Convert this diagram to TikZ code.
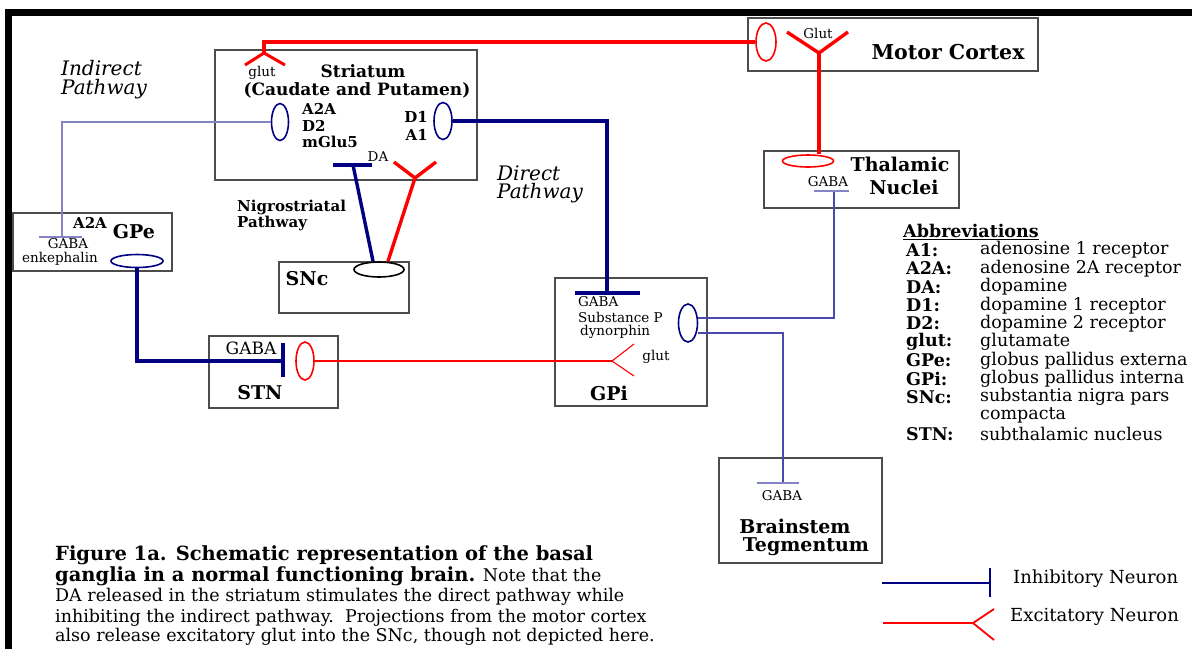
\documentclass[tikz,border=0pt]{standalone}
\usepackage{fontspec}
\setmainfont{DejaVu Serif}
\usetikzlibrary{shapes.geometric}
\definecolor{navy}{HTML}{000080}
\definecolor{paleblue}{HTML}{8484C4}
\definecolor{midblue}{HTML}{4A4AAE}
\newcommand{\fsz}[1]{\fontsize{#1}{#1}\selectfont}

\begin{document}
\begin{tikzpicture}[x=1pt, y=-1pt,
    box/.style={draw=black!70, line width=1.2pt, inner sep=0pt},
    rcpt/.style={ellipse, draw, line width=1.6pt, inner sep=0pt},
    inh/.style={draw=navy, line width=3.4pt},
    inhlite/.style={draw=paleblue, line width=1.5pt},
    inhmid/.style={draw=midblue, line width=1.5pt},
    exc/.style={draw=red, line width=3.4pt},
    exclite/.style={draw=red, line width=1.1pt},
    ttl/.style={inner sep=0pt, font=\bfseries\fsz{19}},
    sttl/.style={inner sep=0pt, font=\bfseries\fsz{17}},
    rcl/.style={inner sep=0pt, font=\bfseries\fsz{15}},
    sml/.style={inner sep=0pt, font=\fsz{13.5}},
    pathlbl/.style={inner sep=0pt, font=\itshape\fsz{20}},
    txt/.style={inner sep=0pt, font=\fsz{17.5}},
    btxt/.style={inner sep=0pt, font=\bfseries\fsz{17.5}},
    captxt/.style={inner sep=0pt, font=\fsz{17.5}},
    capb/.style={inner sep=0pt, font=\bfseries\fsz{19.5}}]

    \path[fill=white] (0,0) rectangle (1192,649);
    \useasboundingbox (0,0) rectangle (1192,649);
    % frame
    \fill[black] (5,9) rectangle (1192,16);
    \fill[black] (5,9) rectangle (12,649);

    % boxes
    \node[box, minimum width=262pt, minimum height=130pt] (striatum) at (346,115) {};
    \node[box, minimum width=290pt, minimum height=53pt] (motor) at (893,44.5) {};
    \node[box, minimum width=195pt, minimum height=57pt] (thal) at (861.5,179.5) {};
    \node[box, minimum width=159pt, minimum height=58pt] (gpe) at (92.5,242) {};
    \node[box, minimum width=130pt, minimum height=51pt] (snc) at (344,287.5) {};
    \node[box, minimum width=129pt, minimum height=72pt] (stn) at (273.5,372) {};
    \node[box, minimum width=152pt, minimum height=128pt] (gpi) at (631,342) {};
    \node[box, minimum width=163pt, minimum height=105pt] (brainstem) at (800.5,510.5) {};

    % receptors
    \node[rcpt, draw=navy, minimum width=17pt, minimum height=37pt] (a2a) at (280,122) {};
    \node[rcpt, draw=navy, minimum width=18pt, minimum height=37pt] (d1) at (443,121) {};
    \node[rcpt, draw=red, minimum width=20pt, minimum height=38pt] (mcrec) at (766,42) {};
    \node[rcpt, draw=red, minimum width=51pt, minimum height=12pt] (thrrec) at (808,161) {};
    \node[rcpt, draw=navy, minimum width=52pt, minimum height=13pt] (gperec) at (137,261) {};
    \node[rcpt, draw=black, minimum width=50pt, minimum height=15pt] (sncrec) at (379,269.5) {};
    \node[rcpt, draw=red, minimum width=18pt, minimum height=38pt] (stnrec) at (305,361) {};
    \node[rcpt, draw=navy, minimum width=19pt, minimum height=38pt] (gpirec) at (688,323) {};

    % motor cortex -> striatum
    \coordinate (strfork) at (264,53);
    \draw[exc, line width=3.2pt] (mcrec.west) -| (strfork);
    \draw[exc, line width=3pt] ([shift={(-19,12)}]strfork) -- (strfork) -- ([shift={(21,12)}]strfork);

    % motor cortex -> thalamus
    \coordinate (mcfork) at (819,53);
    \draw[exc] ([shift={(-32,-21)}]mcfork) -- (mcfork) -- ([shift={(29,-21)}]mcfork);
    \draw[exc] (mcfork) -- (mcfork |- thrrec.north);

    % nigrostriatal
    \coordinate (dabar) at (353,165);
    \draw[inh] ([xshift=-6pt]sncrec.north) -- (dabar);
    \draw[inh] ([xshift=-20pt]dabar) -- ([xshift=19pt]dabar);
    \coordinate (dafork) at (415,178);
    \draw[exc] ([xshift=9pt]sncrec.north) -- (dafork);
    \draw[exc] ([shift={(-21,-16)}]dafork) -- (dafork) -- ([shift={(21,-16)}]dafork);

    % direct pathway
    \coordinate (gpibar) at (607,293);
    \draw[inh] (d1.east) -| (gpibar);
    \draw[inh] ([xshift=-32pt]gpibar) -- ([xshift=33pt]gpibar);

    % indirect pathway
    \coordinate (gpebar) at (62,237);
    \draw[inhlite] (a2a.west) -| (gpebar);
    \draw[inhlite] ([xshift=-23pt]gpebar) -- ([xshift=20pt]gpebar);
    \coordinate (stnbar) at (283,361);
    \draw[inh] (gperec.south) |- (stnbar);
    \draw[inh] ([yshift=18pt]stnbar) -- ([yshift=-16pt]stnbar);
    \coordinate (gpifork) at (612,361);
    \draw[exclite] (stnrec.east) -- (gpifork);
    \draw[exclite] ([shift={(22,-17)}]gpifork) -- (gpifork) -- ([shift={(22,15)}]gpifork);

    % output of GPi
    \coordinate (thbar) at (834,191);
    \draw[inhmid] ([yshift=5pt]gpirec.east) -| (thbar);
    \draw[inhlite] ([xshift=-20pt]thbar) -- ([xshift=15pt]thbar);
    \coordinate (bsbar) at (783,483);
    \draw[inhmid] ([yshift=-10pt]gpirec.east) -| (bsbar);
    \draw[inhlite] ([xshift=-26pt]bsbar) -- ([xshift=16pt]bsbar);

    % labels in the boxes
    \node[sml] (glut1) at (262,73) {glut};
    \node[sttl] (strname) at (363,71) {Striatum};
    \node[sttl] (strsub) at (357,90) {(Caudate and Putamen)};
    \node[rcl, anchor=west] (a2albl) at (302,109) {A2A};
    \node[rcl, anchor=west] (d2lbl) at (302,126) {D2};
    \node[rcl, anchor=west] (mglulbl) at (302,142) {mGlu5};
    \node[rcl, anchor=east] (d1lbl) at (428,117) {D1};
    \node[rcl, anchor=east] (a1lbl) at (428,135) {A1};
    \node[sml] (dalbl) at (378,157) {DA};
    \node[sml] (glut2) at (818,33) {Glut};
    \node[ttl, font=\bfseries\fsz{20.5}] (mcname) at (948,52) {Motor Cortex};
    \node[ttl] (thname1) at (900,164) {Thalamic};
    \node[ttl] (thname2) at (904,187) {Nuclei};
    \node[sml] (thgaba) at (828,182) {GABA};
    \node[rcl] (gpea2a) at (90,223) {A2A};
    \node[ttl] (gpename) at (134,232) {GPe};
    \node[sml] (gpegaba) at (68,244) {GABA};
    \node[sml] (gpeenk) at (60,259) {enkephalin};
    \node[ttl] (sncname) at (307,279) {SNc};
    \node[rcl, anchor=west] (nigro1) at (237,207) {Nigrostriatal};
    \node[rcl, anchor=west] (nigro2) at (237,223) {Pathway};
    \node[txt, font=\fsz{17}] (stngaba) at (251,348) {GABA};
    \node[ttl] (stnname) at (260,393) {STN};
    \node[sml, anchor=west] (gpigaba) at (578,302) {GABA};
    \node[sml, anchor=west] (gpisub) at (578,317) {Substance P};
    \node[sml, anchor=west] (gpidyn) at (580,332) {dynorphin};
    \node[sml] (glut3) at (656,357) {glut};
    \node[ttl] (gpiname) at (609,393) {GPi};
    \node[sml] (bsgaba) at (782,496) {GABA};
    \node[ttl] (bsname1) at (795,526) {Brainstem};
    \node[ttl] (bsname2) at (806,547) {Tegmentum};

    % pathway names
    \node[pathlbl, anchor=west] (ind1) at (61,68) {Indirect};
    \node[pathlbl, anchor=west] (ind2) at (61,89) {Pathway};
    \node[pathlbl, anchor=west] (dir1) at (497,173) {Direct};
    \node[pathlbl, anchor=west] (dir2) at (497,193) {Pathway};

    % abbreviations
    \node[btxt, anchor=west] (abbr) at (903,232) {\underline{Abbreviations}};
    \foreach \r/\ab/\full in {0/A1:/adenosine 1 receptor, 1/A2A:/adenosine 2A receptor,
        2/DA:/dopamine, 3/D1:/dopamine 1 receptor, 4/D2:/dopamine 2 receptor,
        5/glut:/glutamate, 6/GPe:/globus pallidus externa, 7/GPi:/globus pallidus interna,
        8/SNc:/substantia nigra pars, 10/STN:/subthalamic nucleus} {
        \node[btxt, anchor=west] (ab\r) at (906,250+18.4*\r) {\ab};
        \node[txt, anchor=west] (full\r) at (980,250+18.4*\r) {\full};
    }
    \node[txt, anchor=west] (full9) at (980,250+18.4*9) {compacta};

    % key
    \node[txt, font=\fsz{18}, anchor=west] (inhkey) at (1013,579) {Inhibitory Neuron};
    \node[txt, font=\fsz{18}, anchor=west] (exckey) at (1010,617) {Excitatory Neuron};
    \coordinate (inhstart) at (882,583);
    \coordinate (inhend) at (990,583);
    \draw[inh, line width=2.2pt] (inhstart) -- (inhend);
    \draw[inh, line width=2.2pt] ([yshift=15pt]inhend) -- ([yshift=-14pt]inhend);
    \coordinate (excstart) at (883,623);
    \coordinate (excend) at (973,623);
    \draw[exc, line width=2.2pt] (excstart) -- (excend);
    \draw[exc, line width=1.8pt] ([shift={(21,-14)}]excend) -- (excend) -- ([shift={(21,17)}]excend);

    % caption
    \node[capb, anchor=west] (cap1) at (55,555) {Figure 1a. Schematic representation of the basal};
    \node[capb, anchor=west] (cap2) at (55,576) {ganglia in a normal functioning brain.\mdseries\fsz{17.5} Note that the};
    \node[captxt, anchor=west] (cap3) at (55,597) {DA released in the striatum stimulates the direct pathway while};
    \node[captxt, anchor=west] (cap4) at (55,618) {inhibiting the indirect pathway.\ \ Projections from the motor cortex};
    \node[captxt, anchor=west] (cap5) at (55,637) {also release excitatory glut into the SNc, though not depicted here.};
\end{tikzpicture}
\end{document}
